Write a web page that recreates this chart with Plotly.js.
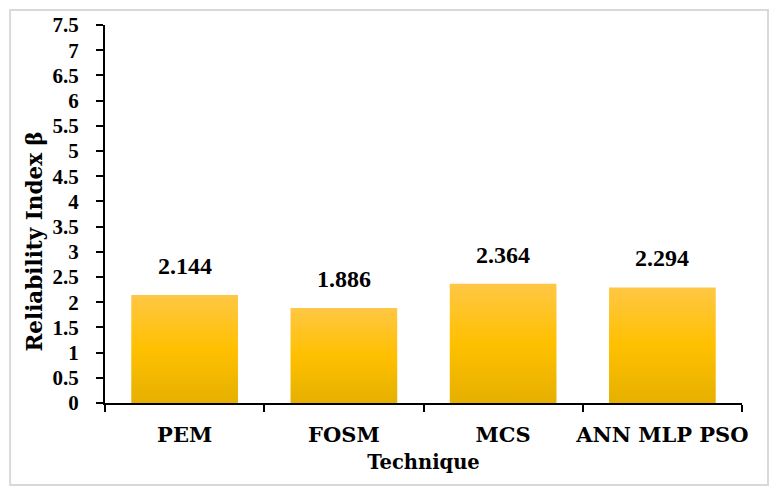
<!DOCTYPE html>
<html>
<head>
<meta charset="utf-8">
<script src="https://cdn.plot.ly/plotly-3.0.1.min.js"></script>
<style>html,body{margin:0;padding:0;background:#fff;}#chart{width:779px;height:496px;}</style>
</head>
<body>
<div id="chart"></div>
<script>
const categories = ["PEM", "FOSM", "MCS", "ANN MLP PSO"];
const reliabilityIndex = [2.144, 1.886, 2.364, 2.294];
const valueLabels = ["2.144", "1.886", "2.364", "2.294"];
const yTickValues = [0, 0.5, 1, 1.5, 2, 2.5, 3, 3.5, 4, 4.5, 5, 5.5, 6, 6.5, 7, 7.5];
const yTickLabels = ["0", "0.5", "1", "1.5", "2", "2.5", "3", "3.5", "4", "4.5", "5", "5.5", "6", "6.5", "7", "7.5"];
const xTitle = "Technique";
const yTitle = "Reliability Index β";

const TEXT_FONT = "DejaVu Serif, Liberation Serif, serif";
const NUM_FONT = "Liberation Serif, DejaVu Serif, serif";

const trace = {
  type: "bar",
  x: categories,
  y: reliabilityIndex,
  marker: {color: "#FFC000", line: {width: 0}},
  width: 0.67,
  hoverinfo: "none"
};

const annotations = categories.map((c, i) => ({
  x: c, y: reliabilityIndex[i], xref: "x", yref: "y",
  text: "<b>" + valueLabels[i] + "</b>",
  showarrow: false, yanchor: "bottom", yshift: 14,
  font: {family: NUM_FONT, size: 24, color: "#000"}
}));

annotations.push({
  xref: "paper", yref: "paper", x: -0.11, y: 0.427,
  xanchor: "center", yanchor: "middle", textangle: -90,
  text: "<b>" + yTitle + "</b>", showarrow: false,
  font: {family: TEXT_FONT, size: 21.5, color: "#000"}
});

const layout = {
  width: 779, height: 496,
  margin: {l: 105, r: 37, t: 25, b: 93},
  paper_bgcolor: "#fff", plot_bgcolor: "#fff",
  showlegend: false,
  font: {family: TEXT_FONT, color: "#000"},
  xaxis: {
    type: "category",
    showline: true, linecolor: "#000", linewidth: 2,
    ticks: "outside", tickson: "boundaries", ticklen: 7, tickwidth: 2, tickcolor: "#000",
    showgrid: false, zeroline: false, tickangle: 0,
    tickfont: {family: TEXT_FONT, size: 21, color: "#000", weight: "bold"},
    ticklabelstandoff: 12,
    title: {text: "<b>" + xTitle + "</b>", font: {family: TEXT_FONT, size: 19.5, color: "#000"}, standoff: 9}
  },
  yaxis: {
    range: [0, 7.5],
    tickvals: yTickValues, ticktext: yTickLabels,
    showline: true, linecolor: "#000", linewidth: 2,
    ticks: "outside", ticklen: 7, tickwidth: 2, tickcolor: "#000",
    showgrid: false, zeroline: false,
    tickfont: {family: NUM_FONT, size: 21, color: "#000", weight: "bold"},
    ticklabelstandoff: 13
  },
  annotations: annotations,
  shapes: [{
    type: "rect", xref: "paper", yref: "paper",
    x0: -0.149, x1: 1.0408, y0: -0.2169, y1: 1.0397,
    line: {color: "#D9D9D9", width: 2}, fillcolor: "rgba(0,0,0,0)", layer: "below"
  }]
};

Plotly.newPlot("chart", [trace], layout, {displayModeBar: false, staticPlot: true}).then(gd => {
  // vertical gradient on the bars, like the reference
  const svg = gd.querySelector("svg.main-svg");
  const ns = "http://www.w3.org/2000/svg";
  let defs = svg.querySelector("defs");
  if (!defs) { defs = document.createElementNS(ns, "defs"); svg.insertBefore(defs, svg.firstChild); }
  const grad = document.createElementNS(ns, "linearGradient");
  grad.setAttribute("id", "barGrad");
  grad.setAttribute("x1", "0"); grad.setAttribute("y1", "0");
  grad.setAttribute("x2", "0"); grad.setAttribute("y2", "1");
  [["0", "#FFC745"], ["0.5", "#FFC000"], ["1", "#E6B000"]].forEach(([o, c]) => {
    const s = document.createElementNS(ns, "stop");
    s.setAttribute("offset", o); s.setAttribute("stop-color", c);
    grad.appendChild(s);
  });
  defs.appendChild(grad);
  gd.querySelectorAll(".bars .point path").forEach(p => { p.style.fill = "url(#barGrad)"; });
});
</script>
</body>
</html>
